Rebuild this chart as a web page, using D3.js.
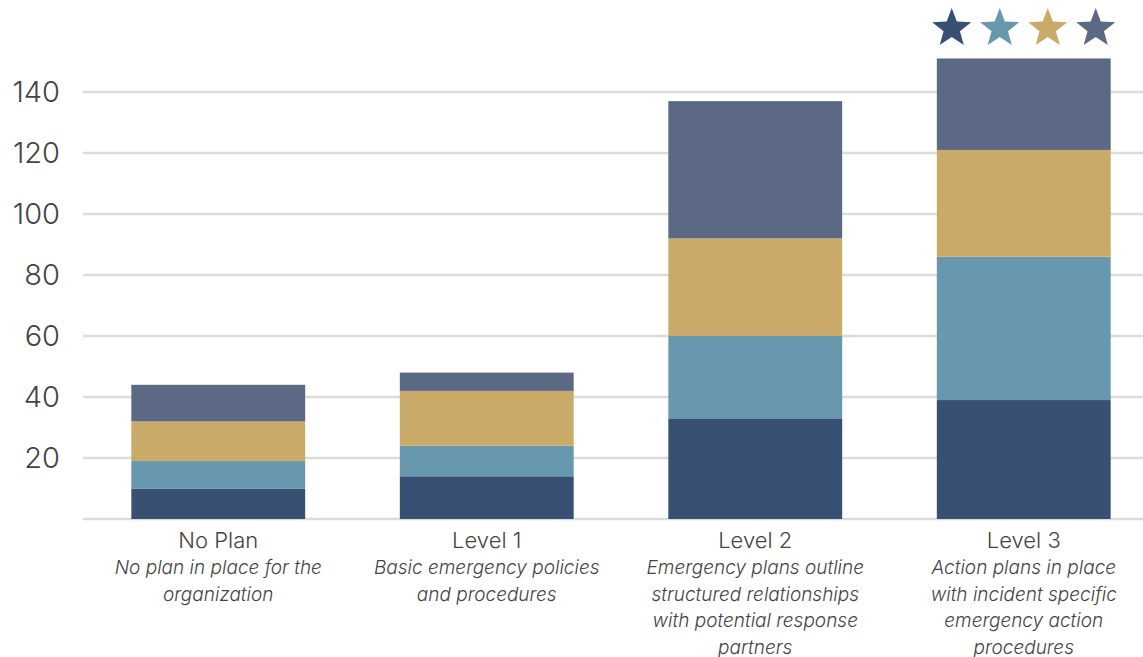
<!DOCTYPE html>
<html><head><meta charset="utf-8">
<script src="https://cdn.jsdelivr.net/npm/d3@7"></script>
<style>
html,body{margin:0;padding:0;background:#fff;}
svg{display:block;}
</style></head>
<body>
<svg id="chart" width="1143" height="657"></svg>
<script>
// Data
const categories = ["No Plan", "Level 1", "Level 2", "Level 3"];
const descriptions = [
  ["No plan in place for the", "organization"],
  ["Basic emergency policies", "and procedures"],
  ["Emergency plans outline", "structured relationships", "with potential response", "partners"],
  ["Action plans in place", "with incident specific", "emergency action", "procedures"]
];
const seriesNames = ["s1", "s2", "s3", "s4"];
const series1 = [10, 14, 33, 39];
const series2 = [9, 10, 27, 47];
const series3 = [13, 18, 32, 35];
const series4 = [12, 6, 45, 30];
const yTicks = [20, 40, 60, 80, 100, 120, 140];
const colors = ["#375073", "#6798ae", "#c9aa68", "#5b6984"];

const svg = d3.select("#chart");
const left = 83, right = 1143, y0 = 519;
const FONT = "Inter, 'Open Sans', sans-serif";

const y = d3.scaleLinear().domain([0, 140]).range([y0, y0 - 140 * 3.05]);
const x = d3.scaleBand().domain(categories).range([left, 1159]).paddingInner(0.3525).paddingOuter(0.18);

const rows = categories.map((c, i) => ({cat: c, s1: series1[i], s2: series2[i], s3: series3[i], s4: series4[i]}));
const stacked = d3.stack().keys(seriesNames)(rows);

// gridlines
svg.append("g").selectAll("line").data([0].concat(yTicks)).join("line")
  .attr("x1", left).attr("x2", right)
  .attr("y1", d => y(d)).attr("y2", d => y(d))
  .attr("stroke", "#dcdcdc").attr("stroke-width", 2.5);

// y tick labels
svg.append("g").selectAll("text").data(yTicks).join("text")
  .attr("x", 60).attr("y", d => y(d)).attr("dy", "0.36em")
  .attr("text-anchor", "end")
  .attr("font-family", FONT).attr("font-weight", 300)
  .attr("font-size", 29).attr("fill", "#444")
  .text(d => d);

// bars
svg.append("g").selectAll("g").data(stacked).join("g")
  .attr("fill", (d, i) => colors[i])
  .selectAll("rect").data(d => d).join("rect")
  .attr("x", d => x(d.data.cat))
  .attr("width", x.bandwidth())
  .attr("y", d => y(d[1]))
  .attr("height", d => y(d[0]) - y(d[1]));

// category labels
const lab = svg.append("g").selectAll("g").data(categories).join("g")
  .attr("transform", d => `translate(${x(d) + x.bandwidth() / 2},0)`);
lab.append("text")
  .attr("y", 548).attr("text-anchor", "middle")
  .attr("font-family", FONT).attr("font-weight", 300)
  .attr("font-size", 22).attr("fill", "#444")
  .text(d => d);
lab.each(function(d, i) {
  const g = d3.select(this);
  descriptions[i].forEach((line, j) => {
    g.append("text")
      .attr("y", 574 + j * 26.5).attr("text-anchor", "middle")
      .attr("font-family", FONT).attr("font-weight", 300)
      .attr("font-style", "italic")
      .attr("font-size", 19).attr("fill", "#444")
      .text(line);
  });
});

// stars above Level 3
const starPath = (R) => {
  const r = R * 0.42;
  const pts = [];
  for (let k = 0; k < 10; k++) {
    const rad = k % 2 === 0 ? R : r;
    const a = -Math.PI / 2 + k * Math.PI / 5;
    pts.push([rad * Math.cos(a), rad * Math.sin(a)]);
  }
  return "M" + pts.map(p => p.join(",")).join("L") + "Z";
};
const cx = x("Level 3") + x.bandwidth() / 2;
svg.append("g").selectAll("path").data(colors).join("path")
  .attr("d", starPath(20.5))
  .attr("transform", (d, i) => `translate(${cx + (i - 1.5) * 48},28.5)`)
  .attr("fill", d => d);
</script>
</body></html>
